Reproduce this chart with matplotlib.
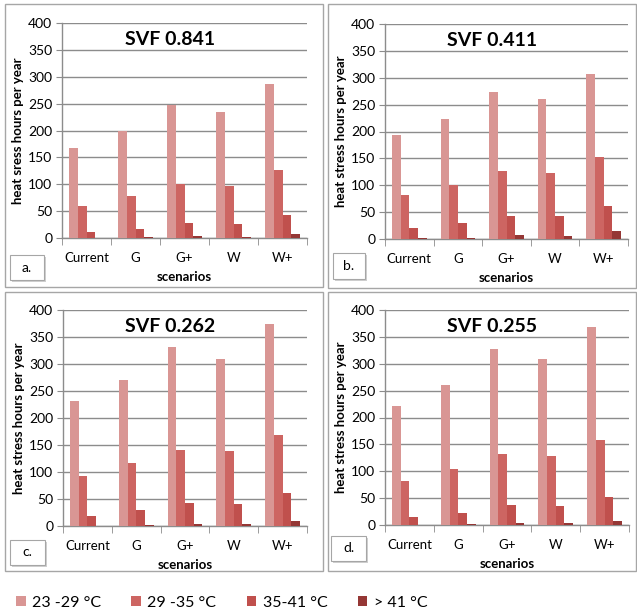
import numpy as np
import matplotlib.pyplot as plt
from matplotlib.patches import Patch, Rectangle

plt.rcParams['font.family'] = ['Lato', 'DejaVu Sans']

scenarios = ["Current", "G", "G+", "W", "W+"]
bins = ["23 -29 °C", "29 -35 °C", "35-41 °C", "> 41 °C"]
colors = ["#d99694", "#cd6562", "#c0504d", "#953735"]

# hours per year, one list per temperature bin, in scenario order
a_23 = [167, 200, 247, 235, 286]
a_29 = [59, 78, 100, 97, 126]
a_35 = [11, 17, 27, 26, 42]
a_41 = [0.5, 1, 3, 2, 7]

b_23 = [193, 223, 274, 260, 307]
b_29 = [81, 101, 126, 123, 152]
b_35 = [21, 30, 43, 42, 61]
b_41 = [1, 2, 7, 5, 14]

c_23 = [232, 270, 332, 310, 375]
c_29 = [93, 116, 141, 138, 168]
c_35 = [19, 29, 42, 40, 61]
c_41 = [0.3, 1, 4, 3, 10]

d_23 = [221, 261, 327, 308, 369]
d_29 = [82, 104, 132, 128, 158]
d_35 = [15, 23, 37, 35, 53]
d_41 = [0.3, 1, 3, 3, 7]

panels = [
    ("a.", "SVF 0.841", "heat sress hours per year", [a_23, a_29, a_35, a_41]),
    ("b.", "SVF 0.411", "heat stress hours per year", [b_23, b_29, b_35, b_41]),
    ("c.", "SVF 0.262", "heat stress hours per year", [c_23, c_29, c_35, c_41]),
    ("d.", "SVF 0.255", "heat stress hours per year", [d_23, d_29, d_35, d_41]),
]

W, H = 637, 610
fig = plt.figure(figsize=(W / 100, H / 100), dpi=100)

def px(l, t, r, b):
    return [l / W, 1 - b / H, (r - l) / W, (b - t) / H]

ax_boxes = [px(62, 23, 307, 238), px(385, 24, 628, 239),
            px(63, 310, 307, 526), px(385, 310, 629, 525)]
frames = [(5, 4, 323, 287), (328, 4, 636, 288),
          (5, 292, 323, 571), (328, 292, 636, 571)]
letter_boxes = [(10, 255, 44, 280), (333, 253, 365, 279),
                (10, 540, 45, 565), (331, 536, 366, 561)]

# panel frames
for (l, t, r, b) in frames:
    fig.patches.append(Rectangle((l / W, 1 - b / H), (r - l) / W, (b - t) / H,
                                 transform=fig.transFigure, fill=False,
                                 edgecolor="#a6a6a6", lw=1.0, zorder=0))

x = np.arange(len(scenarios))
bw = 0.178
grid_c = "#8c8c8c"

for (letter, title, ylab, series), box, lb in zip(panels, ax_boxes, letter_boxes):
    ax = fig.add_axes(box)
    for i, vals in enumerate(series):
        ax.bar(x + (i - 1.5) * bw, vals, bw, color=colors[i], zorder=3)
    ax.set_xlim(-0.5, 4.5)
    ax.set_ylim(0, 400)
    ax.set_yticks(np.arange(0, 401, 50))
    ax.yaxis.grid(True, color=grid_c, lw=1.0, zorder=0)
    ax.set_xticks(x)
    ax.set_xticklabels(scenarios, fontsize=9.5)
    ax.set_xticks(np.arange(-0.5, 5, 1), minor=True)
    ax.tick_params(axis="x", which="major", length=0, pad=10)
    ax.tick_params(axis="x", which="minor", length=5, color=grid_c, direction="out")
    ax.tick_params(axis="y", length=4, color=grid_c, labelsize=10, pad=3)
    for s in ("top", "right"):
        ax.spines[s].set_visible(False)
    for s in ("left", "bottom"):
        ax.spines[s].set_color(grid_c)
        ax.spines[s].set_linewidth(1.0)
    ax.set_xlabel("scenarios", fontsize=9.5, fontweight="bold", labelpad=5)
    ax.set_ylabel(ylab, fontsize=9.5, fontweight="bold", labelpad=3)
    ax.text(0.44, 0.925, title, transform=ax.transAxes, ha="center",
            va="center", fontsize=14, fontweight="bold")

    l, t, r, b = lb
    fig.patches.append(Rectangle(((l + 2) / W, 1 - (b + 2) / H), (r - l) / W, (b - t) / H,
                                 transform=fig.transFigure, facecolor="#d0d0d0",
                                 edgecolor="none", zorder=4))
    fig.patches.append(Rectangle((l / W, 1 - b / H), (r - l) / W, (b - t) / H,
                                 transform=fig.transFigure, facecolor="white",
                                 edgecolor="#a6a6a6", lw=0.8, zorder=5))
    fig.text((l + r) / 2 / W, 1 - (t + b) / 2 / H, letter, ha="center",
             va="center", fontsize=10, zorder=6)

handles = [Patch(facecolor=c, edgecolor="none") for c in colors]
fig.legend(handles, bins, loc="center left", bbox_to_anchor=(16 / W, 1 - 603 / H),
           ncol=4, frameon=False, fontsize=11.5, handlelength=0.6, handleheight=0.6,
           handletextpad=0.4, columnspacing=1.9, borderpad=0, borderaxespad=0)

fig.savefig("out.png", dpi=100)
